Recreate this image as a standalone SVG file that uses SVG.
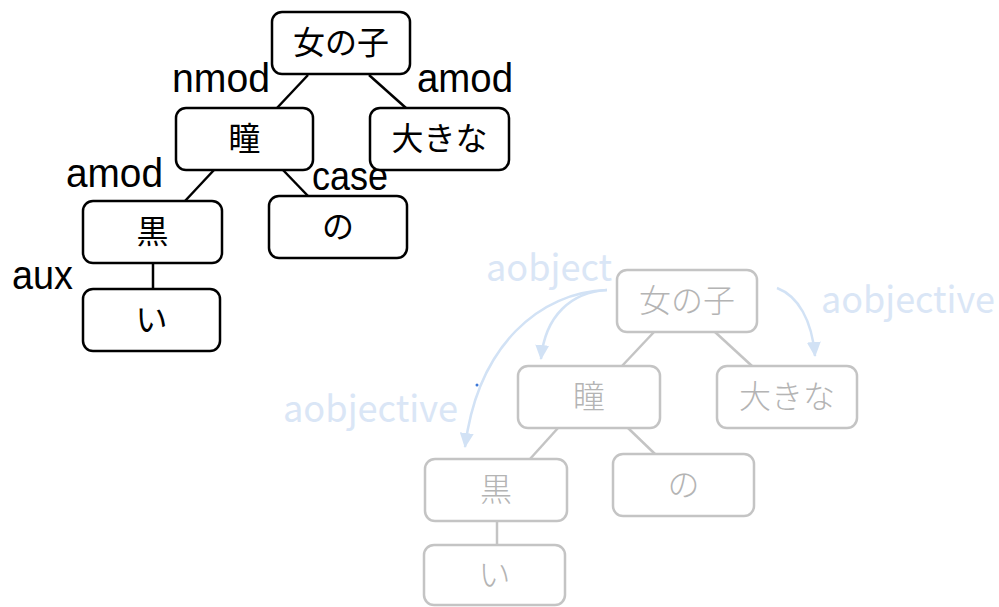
<svg xmlns="http://www.w3.org/2000/svg" width="999" height="607" viewBox="0 0 999 607">
  <style>
    .bk rect { fill: #ffffff; stroke: #000000; stroke-width: 2.5; }
    .bk text { font-family: "Noto Sans CJK JP", sans-serif; font-size: 32px; fill: #000000; text-anchor: middle; }
    .gr rect { fill: #ffffff; stroke: #c4c4c4; stroke-width: 2.5; }
    .gr text { font-family: "Noto Sans CJK JP", sans-serif; font-weight: 300; font-size: 32px; fill: #b4b4b4; text-anchor: middle; }
    .lbl { font-family: "Liberation Sans", Arial, sans-serif; font-size: 40px; fill: #000000; }
    .blbl { font-family: "Noto Sans CJK JP", sans-serif; font-size: 37px; fill: #dae6f6; }
    .eb { stroke: #000000; stroke-width: 2.5; fill: none; }
    .eg { stroke: #c4c4c4; stroke-width: 2.5; fill: none; }
    .ea { stroke: #d2e2f5; stroke-width: 2.5; fill: none; marker-end: url(#ah); }
  </style>
  <defs>
    <marker id="ah" viewBox="0 0 15 14" refX="14" refY="7" markerWidth="15" markerHeight="14" markerUnits="userSpaceOnUse" orient="auto">
      <path d="M0,0 L15,7 L0,14 z" fill="#d2e2f5"/>
    </marker>
  </defs>

  <g id="connectors">
    <line class="eb" x1="308" y1="75" x2="277" y2="108"/>
    <line class="eb" x1="369" y1="75" x2="406" y2="108"/>
    <line class="eb" x1="214" y1="170" x2="185" y2="201"/>
    <line class="eb" x1="283" y1="170" x2="308" y2="196"/>
    <line class="eb" x1="153" y1="263" x2="153" y2="289"/>

    <line class="eg" x1="654" y1="332" x2="622" y2="366"/>
    <line class="eg" x1="715" y1="332" x2="752" y2="366"/>
    <line class="eg" x1="558" y1="428" x2="530" y2="459"/>
    <line class="eg" x1="628" y1="428" x2="655" y2="454"/>
    <line class="eg" x1="497" y1="521" x2="497" y2="545"/>

    <path class="ea" d="M607,290 C572,292 545,315 541,359"/>
    <path class="ea" d="M607,290 C540,292 478,345 465,447"/>
    <path class="ea" d="M777,288 C798,296 812,320 815,356"/>
    <circle cx="477" cy="385" r="1.5" fill="#3c78d8"/>
  </g>

  <g id="labels">
    <text class="lbl" x="172" y="92" textLength="98" lengthAdjust="spacingAndGlyphs">nmod</text>
    <text class="lbl" x="417" y="92" textLength="96" lengthAdjust="spacingAndGlyphs">amod</text>
    <text class="lbl" x="66" y="187" textLength="97" lengthAdjust="spacingAndGlyphs">amod</text>
    <text class="lbl" x="312" y="190" textLength="76" lengthAdjust="spacingAndGlyphs">case</text>
    <text class="lbl" x="12" y="289" textLength="61" lengthAdjust="spacingAndGlyphs">aux</text>
    <text class="blbl" x="486" y="281" textLength="126" lengthAdjust="spacingAndGlyphs">aobject</text>
    <text class="blbl" x="821" y="313" textLength="174" lengthAdjust="spacingAndGlyphs">aobjective</text>
    <text class="blbl" x="283" y="422" textLength="175" lengthAdjust="spacingAndGlyphs">aobjective</text>
  </g>

  <g id="n1" class="bk"><rect x="272" y="12" width="138" height="62" rx="10"/><text x="341" y="54">女の子</text></g>
  <g id="n2" class="bk"><rect x="176" y="108" width="137" height="62" rx="10"/><text x="244.5" y="150">瞳</text></g>
  <g id="n3" class="bk"><rect x="370" y="108" width="139" height="62" rx="10"/><text x="439.5" y="150">大きな</text></g>
  <g id="n4" class="bk"><rect x="83" y="201" width="139" height="62" rx="10"/><text x="152.5" y="243">黒</text></g>
  <g id="n5" class="bk"><rect x="269" y="196" width="138" height="62" rx="10"/><text x="338" y="238">の</text></g>
  <g id="n6" class="bk"><rect x="83" y="289" width="137" height="62" rx="10"/><text x="151.5" y="331">い</text></g>

  <g id="g1" class="gr"><rect x="617" y="270" width="140" height="62" rx="10"/><text x="687" y="312">女の子</text></g>
  <g id="g2" class="gr"><rect x="518" y="366" width="142" height="62" rx="10"/><text x="589" y="408">瞳</text></g>
  <g id="g3" class="gr"><rect x="717" y="366" width="140" height="62" rx="10"/><text x="787" y="408">大きな</text></g>
  <g id="g4" class="gr"><rect x="425" y="459" width="142" height="62" rx="10"/><text x="496" y="501">黒</text></g>
  <g id="g5" class="gr"><rect x="613" y="454" width="141" height="62" rx="10"/><text x="683.5" y="496">の</text></g>
  <g id="g6" class="gr"><rect x="424" y="545" width="141" height="60" rx="10"/><text x="494.5" y="586">い</text></g>
</svg>
